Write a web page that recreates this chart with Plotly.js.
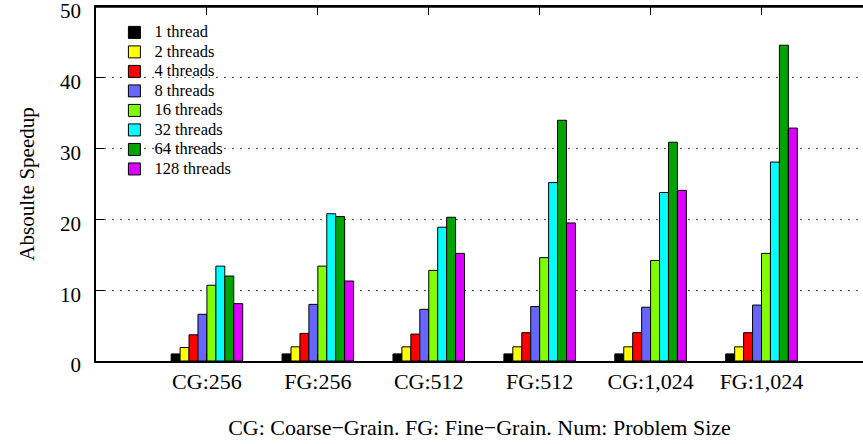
<!DOCTYPE html>
<html>
<head>
<meta charset="utf-8">
<script src="https://cdn.plot.ly/plotly-3.0.1.min.js"></script>
<style>
html,body{margin:0;padding:0;background:#fff;}
#wrap{position:relative;width:863px;height:444px;}
#chart{width:863px;height:444px;}
#topline{position:absolute;left:95px;top:6px;width:768px;height:0;border-top:1.5px solid #000;z-index:10;pointer-events:none;}
</style>
</head>
<body>
<div id="wrap"><div id="chart"></div><div id="topline"></div></div>
<script>
const categories = ["CG:256", "FG:256", "CG:512", "FG:512", "CG:1,024", "FG:1,024"];
const seriesNames = ["1 thread", "2 threads", "4 threads", "8 threads", "16 threads", "32 threads", "64 threads", "128 threads"];
const t1   = [1.0, 1.0, 1.0, 1.0, 1.0, 1.0];
const t2   = [1.9, 2.0, 2.0, 2.0, 2.0, 2.0];
const t4   = [3.7, 3.9, 3.8, 4.0, 4.0, 4.0];
const t8   = [6.6, 8.0, 7.3, 7.7, 7.6, 7.9];
const t16  = [10.7, 13.4, 12.8, 14.6, 14.2, 15.2];
const t32  = [13.4, 20.8, 18.9, 25.2, 23.8, 28.1];
const t64  = [12.0, 20.4, 20.3, 34.0, 30.9, 44.6];
const t128 = [8.1, 11.3, 15.2, 19.5, 24.1, 32.9];
const seriesValues = [t1, t2, t4, t8, t16, t32, t64, t128];
const yTicks = [0, 10, 20, 30, 40, 50];
const colors = ["#000000", "#ffff00", "#ff0000", "#6666ff", "#80ff00", "#00ffff", "#00a300", "#dd00ff"];
const xTitle = "CG: Coarse\u2212Grain. FG: Fine\u2212Grain. Num: Problem Size";
const yTitle = "Absoulte Speedup";

const font = "Liberation Serif, Times New Roman, serif";
const serifSpan = (txt, size) => '<span style="font-size:' + size + 'px;font-family:Liberation Serif">' + txt + '</span>';

const traces = seriesNames.map((name, i) => ({
  type: "bar",
  name: serifSpan(name, 16.5),
  x: categories,
  y: seriesValues[i],
  marker: {color: colors[i], line: {color: "#000000", width: 1}}
}));

const xr = [-1, 5.915];

const layout = {
  width: 863, height: 444,
  margin: {l: 96, r: 0, t: 7, b: 83, autoexpand: false},
  paper_bgcolor: "#ffffff", plot_bgcolor: "#ffffff",
  font: {family: font, color: "#000000", size: 22},
  barmode: "group", bargap: 0.355, bargroupgap: 0,
  showlegend: true,
  legend: {
    x: 0.024, y: 0.97, xanchor: "left", yanchor: "top",
    bgcolor: "rgba(0,0,0,0)", borderwidth: 0,
    font: {family: font, size: 12.7, color: "#000000"},
    tracegroupgap: 0, itemwidth: 30
  },
  xaxis: {
    type: "category",
    range: xr,
    automargin: false,
    showline: true, linecolor: "#000000", linewidth: 1.5,
    mirror: "allticks", ticks: "inside", ticklen: 8, tickcolor: "#000000", tickwidth: 1,
    showgrid: false, zeroline: false,
    tickfont: {family: font, size: 22},
    ticklabeloverflow: "allow",
    title: {text: serifSpan(xTitle, 22), font: {family: font, size: 22}, standoff: 26},
    fixedrange: true
  },
  yaxis: {
    range: [0, 50],
    tickvals: yTicks,
    automargin: false,
    showline: true, linecolor: "#000000", linewidth: 1.5,
    ticks: "inside", ticklen: 8, tickcolor: "#000000",
    showgrid: true, gridcolor: "#555555", gridwidth: 1, griddash: "2px,6px",
    zeroline: false,
    tickfont: {family: font, size: 21},
    ticklabeloverflow: "allow",
    ticklabelstandoff: 9,
    ticklabelshift: 4,
    title: {text: serifSpan(yTitle, 21), font: {family: font, size: 21}, standoff: 20},
    fixedrange: true
  },
  shapes: [{
    type: "line", xref: "paper", yref: "paper", x0: 0, x1: 1, y0: 1, y1: 1,
    line: {color: "#000000", width: 1.5}, layer: "above"
  }]
};

Plotly.newPlot("chart", traces, layout, {displayModeBar: false});
</script>
</body>
</html>
